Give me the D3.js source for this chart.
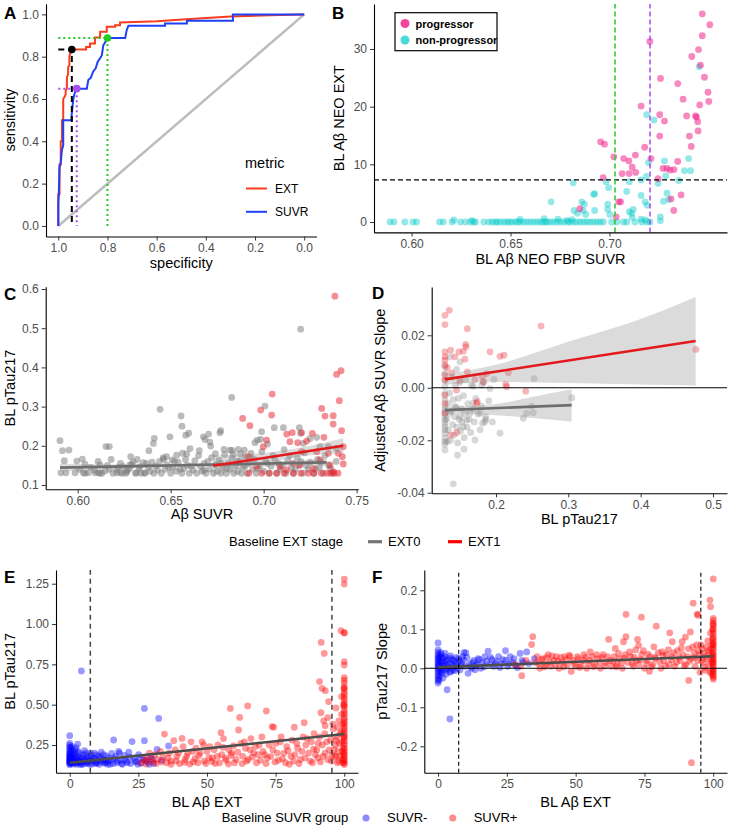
<!DOCTYPE html>
<html>
<head>
<meta charset="utf-8">
<script src="https://cdn.jsdelivr.net/npm/d3@7"></script>
<style>
  body { margin: 0; background: #fff; }
  svg { font-family: "Liberation Sans", Arial, Helvetica, sans-serif; }
  .axis .domain { stroke: #000; stroke-width: 1.1; }
  .axis .tick line { stroke: #333; stroke-width: 1; }
  .axis .tick text { fill: #4d4d4d; font-size: 12px; font-family: "Liberation Sans", Arial, sans-serif; }
  .title { font-size: 14.5px; fill: #000; }
  .letter { font-size: 17px; font-weight: bold; fill: #000; }
  .leg { font-size: 13px; fill: #000; }
</style>
</head>
<body>
<svg id="fig" width="729" height="837"></svg>
<script>
// ---- data ----

// A: ROC curves, [specificity, sensitivity]
const rocExt = [[1,0],[1,0.15],[0.995,0.15],[0.995,0.29],[0.99,0.29],[0.99,0.4],[0.985,0.4],[0.985,0.5],
  [0.98,0.5],[0.98,0.6],[0.975,0.61],[0.97,0.62],[0.97,0.64],[0.965,0.65],[0.965,0.7],[0.96,0.72],
  [0.96,0.75],[0.955,0.76],[0.955,0.8],[0.95,0.82],[0.945,0.834],[0.887,0.834],[0.887,0.846],
  [0.871,0.846],[0.871,0.862],[0.851,0.862],[0.851,0.891],[0.83,0.891],[0.83,0.918],[0.803,0.918],
  [0.803,0.941],[0.769,0.941],[0.769,0.949],[0.749,0.949],[0.749,0.962],[0.6,0.968],[0.48,0.977],
  [0.3,0.99],[0.1,0.997],[0,1]];
const rocSuvr = [[1,0],[1,0.1],[0.998,0.15],[0.995,0.28],[0.99,0.3],[0.985,0.36],[0.98,0.38],[0.98,0.5],
  [0.946,0.5],[0.946,0.52],[0.939,0.6],[0.935,0.62],[0.93,0.64],[0.925,0.649],[0.884,0.649],
  [0.878,0.69],[0.868,0.7],[0.858,0.73],[0.848,0.745],[0.84,0.775],[0.823,0.806],[0.817,0.854],
  [0.808,0.87],[0.803,0.888],[0.728,0.888],[0.722,0.925],[0.715,0.946],[0.566,0.946],[0.566,0.957],
  [0.477,0.957],[0.477,0.97],[0.29,0.97],[0.29,1],[0,1]];
const rocCuts = [ // chosen cut-points
  {name: "EXT", spec: 0.945, sens: 0.834},
  {name: "SUVR-green", spec: 0.80, sens: 0.888},
  {name: "SUVR-purple", spec: 0.925, sens: 0.649}
];
const rocMetrics = ["EXT", "SUVR"];

// B: [BL SUVR, BL EXT]
const bProgressor = [[0.7469,36.1],[0.7507,34.2],[0.7469,32.3],[0.7204,31.3],[0.745,29.9],[0.7416,28.7],
  [0.746,27.2],[0.748,25.1],[0.7258,24.9],[0.7345,24.0],[0.7498,22.5],[0.7372,21.3],[0.7502,20.9],
  [0.7456,20.3],[0.716,20.1],[0.739,18.4],[0.7435,18.4],[0.744,18.2],[0.7254,18.6],[0.7446,17.4],
  [0.7278,17.5],[0.7448,15.8],[0.7404,14.9],[0.7254,14.9],[0.6955,13.9],[0.6975,13.5],[0.7178,12.96],
  [0.7413,13.1],[0.7022,11.3],[0.7072,11.0],[0.7098,10.6],[0.7131,11.6],[0.721,11.0],[0.7345,10.5],
  [0.7115,9.5],[0.7271,9.3],[0.7291,9.3],[0.7306,9.0],[0.7326,9.1],[0.7064,8.4],[0.7099,8.4],
  [0.7133,8.6],[0.7246,7.5],[0.6968,7.7],[0.7362,4.7],[0.7311,4.0],[0.7047,3.5],[0.7056,3.5],
  [0.685,2.3],[0.7325,2.0],[0.7034,0.9]];
const bNonProgressor = [[0.7453,26.9],[0.7188,18.6],[0.7225,17.7],[0.7197,10.3],[0.7278,10.6],[0.740,11.0],
  [0.7379,8.9],[0.741,8.9],[0.7284,8.0],[0.7187,7.9],[0.716,7.3],[0.735,7.2],[0.7246,6.7],[0.71,7.0],
  [0.6983,6.99],[0.6996,5.95],[0.6817,6.8],[0.7087,5.3],[0.692,4.8],[0.6925,4.9],[0.716,4.6],[0.7291,5.0],
  [0.73,3.9],[0.7273,3.6],[0.6705,3.5],[0.686,3.5],[0.6873,3.1],[0.6991,3.1],[0.718,3.5],[0.7191,2.9],
  [0.6821,2.0],[0.6838,1.5],[0.6867,2.0],[0.688,1.3],[0.6925,2.0],[0.6991,2.2],[0.71,1.8],[0.712,2.2],
  [0.7112,1.5],[0.7002,1.3],[0.7257,0.9],[0.7115,0.8],[0.716,0.5],[0.7182,0.35],[0.7257,0.2],
  [0.6785,0.3],[0.681,0.4],[0.674,0.5],[0.667,0.6],[0.6548,0.45],[0.6214,0.35],[0.6305,0.3],
  [0.5891,0],[0.5911,0],[0.5966,0],[0.6007,0],[0.6025,0],[0.6141,0],[0.616,0],[0.6205,0],[0.6247,0],
  [0.6272,0],[0.6297,0],[0.6314,0],[0.6323,0],[0.6365,0],[0.639,0],[0.6407,0],[0.6424,0],[0.6432,0],
  [0.6449,0],[0.6466,0],[0.6482,0],[0.6494,0],[0.6507,0],[0.6524,0],[0.6536,0],[0.6549,0],[0.6566,0],
  [0.6583,0],[0.66,0],[0.6617,0],[0.6633,0],[0.665,0],[0.6664,0],[0.6675,0],[0.6684,0],[0.67,0],
  [0.6717,0],[0.6734,0],[0.6751,0],[0.6768,0],[0.6788,0],[0.6801,0],[0.6818,0],[0.6835,0],[0.6852,0],
  [0.6869,0],[0.6885,0],[0.6902,0],[0.6919,0],[0.6936,0],[0.6953,0],[0.6969,0],[0.7011,0],[0.7037,0],
  [0.707,0],[0.7087,0],[0.7129,0],[0.7163,0],[0.7188,0],[0.7205,0]];
const bCuts = {ext: 7.3, suvrGreen: 0.7028, suvrPurple: 0.7205};

// C: [Abeta SUVR, BL pTau217]
const cExt0 = [[0.5905,0.213],[0.5918,0.1875],[0.5953,0.189],[0.5928,0.162],[0.591,0.131],[0.5937,0.131],
  [0.5995,0.161],[0.6025,0.166],[0.6039,0.153],[0.5986,0.131],[0.603,0.131],[0.6057,0.131],[0.6093,0.131],
  [0.6111,0.131],[0.612,0.151],[0.6152,0.198],[0.617,0.198],[0.6147,0.136],[0.621,0.131],[0.6228,0.131],
  [0.6245,0.147],[0.6263,0.134],[0.6285,0.172],[0.6281,0.151],[0.6299,0.159],[0.6317,0.131],[0.6335,0.147],
  [0.6353,0.157],[0.6362,0.131],[0.6383,0.1875],[0.6407,0.206],[0.6412,0.219],[0.6443,0.293],[0.6461,0.1654],
  [0.6478,0.172],[0.6496,0.223],[0.6509,0.164],[0.6532,0.176],[0.6556,0.276],[0.6561,0.25],[0.6581,0.227],
  [0.6597,0.232],[0.6564,0.181],[0.6586,0.179],[0.6604,0.193],[0.6654,0.1875],[0.6676,0.223],[0.6685,0.216],
  [0.6704,0.23],[0.6711,0.2096],[0.6715,0.1994],[0.6765,0.2334],[0.6769,0.2385],[0.6828,0.3234],
  [0.6787,0.1909],[0.6819,0.1892],[0.6837,0.1782],[0.6864,0.1909],[0.6876,0.179],[0.6896,0.1892],
  [0.6932,0.1807],[0.6953,0.2079],[0.6966,0.2147],[0.6984,0.2164],[0.6989,0.236],[0.7007,0.3014],
  [0.7021,0.2045],[0.7057,0.2461],[0.7106,0.2461],[0.7199,0.4976],[0.7192,0.2461],[0.7199,0.2317],
  [0.7213,0.2062],[0.7249,0.2181],[0.7285,0.2215],[0.7303,0.1977],[0.7348,0.1977],[0.7392,0.1935],
  [0.612,0.13],[0.617,0.14],[0.619,0.13],[0.622,0.145],[0.624,0.13],[0.627,0.138],[0.629,0.152],[0.631,0.13],
  [0.633,0.142],[0.636,0.13],[0.637,0.155],[0.639,0.135],[0.641,0.13],[0.642,0.148],[0.644,0.16],[0.645,0.13],
  [0.647,0.14],[0.648,0.152],[0.65,0.13],[0.651,0.145],[0.653,0.135],[0.654,0.158],[0.656,0.13],[0.657,0.142],
  [0.659,0.15],[0.66,0.13],[0.662,0.138],[0.663,0.162],[0.664,0.13],[0.666,0.147],[0.667,0.135],[0.668,0.155],
  [0.669,0.13],[0.671,0.141],[0.672,0.17],[0.673,0.13],[0.674,0.152],[0.675,0.136],[0.676,0.163],[0.677,0.13],
  [0.678,0.145],[0.679,0.178],[0.68,0.13],[0.681,0.155],[0.682,0.14],[0.683,0.168],[0.684,0.13],[0.685,0.15],
  [0.686,0.135],[0.687,0.16],[0.688,0.13],[0.689,0.145],[0.69,0.172],[0.691,0.13],[0.692,0.155],[0.694,0.14],
  [0.695,0.165],[0.696,0.13],[0.698,0.15],[0.699,0.185],[0.7,0.135],[0.701,0.16],[0.703,0.13],[0.704,0.148],
  [0.705,0.175],[0.707,0.13],[0.708,0.155],[0.709,0.14],[0.711,0.19],[0.712,0.13],[0.713,0.162],[0.715,0.145],
  [0.716,0.13],[0.718,0.17],[0.719,0.15],[0.721,0.13],[0.722,0.182],[0.724,0.14],[0.725,0.158],[0.727,0.13],
  [0.729,0.165],[0.73,0.145],[0.732,0.13],[0.733,0.175],[0.735,0.15],[0.737,0.13],[0.739,0.16],
  [0.601,0.14],[0.604,0.13],[0.607,0.145],[0.609,0.138],[0.611,0.16],[0.613,0.13],[0.616,0.15],[0.618,0.165],
  [0.621,0.14],[0.623,0.155],[0.626,0.13],[0.628,0.143],[0.632,0.165],[0.634,0.13],[0.638,0.145],[0.64,0.158],
  [0.643,0.138],[0.646,0.17],[0.649,0.145],[0.652,0.16],[0.655,0.14],[0.658,0.165],[0.661,0.148],[0.665,0.175],
  [0.668,0.138],[0.67,0.16],[0.674,0.18],[0.677,0.155],[0.68,0.142],[0.683,0.188],[0.686,0.16],[0.69,0.148],
  [0.693,0.17],[0.697,0.142],[0.702,0.155],[0.706,0.165],[0.71,0.15],[0.714,0.175],[0.717,0.14],[0.72,0.16],
  [0.723,0.15],[0.728,0.14],[0.731,0.158],[0.736,0.142]];
const cExt1 = [[0.7383,0.5817],[0.7392,0.3821],[0.7416,0.3914],[0.7407,0.315],[0.7374,0.2767],[0.7374,0.2555],
  [0.7419,0.2385],[0.7046,0.332],[0.6984,0.2912],[0.7043,0.2784],[0.6887,0.2699],[0.6926,0.2512],
  [0.7312,0.2954],[0.733,0.2759],[0.7124,0.23],[0.7154,0.2334],[0.7204,0.2334],[0.7262,0.2317],
  [0.7324,0.2215],[0.7428,0.1977],[0.7423,0.1722],[0.7428,0.1535],[0.7141,0.2105],[0.7183,0.2079],
  [0.7231,0.2121],[0.7016,0.2147],[0.6998,0.1977],[0.6917,0.1722],[0.6962,0.1467],[0.7088,0.1467],
  [0.7124,0.1382],[0.7159,0.1552],[0.7195,0.151],[0.7267,0.1425],[0.7303,0.1637],[0.7357,0.151],
  [0.7374,0.134],[0.7401,0.1807],[0.7348,0.1807],[0.7285,0.185],[0.7204,0.185],
  [0.692,0.13],[0.699,0.13],[0.703,0.13],[0.707,0.13],[0.711,0.13],[0.716,0.13],[0.72,0.13],[0.724,0.13],
  [0.727,0.13],[0.731,0.13],[0.734,0.13],[0.736,0.13],[0.738,0.13],[0.74,0.13]];
// fitted lines and bands: [x, fit] / [x, lower, upper]
const cFit0 = [[0.5905,0.1442],[0.7339,0.1578]];
const cFit1 = [[0.6729,0.149],[0.7428,0.2]];
const cBand0 = [[0.5905,0.134,0.155],[0.62,0.141,0.152],[0.66,0.147,0.154],[0.7,0.149,0.159],[0.7339,0.149,0.167]];
const cBand1 = [[0.6729,0.122,0.176],[0.69,0.145,0.178],[0.708,0.163,0.186],[0.725,0.176,0.2],[0.7428,0.181,0.219]];

// D: [BL pTau217, adjusted SUVR slope]
const dExt1 = [[0.1294,0.0276],[0.1354,0.0295],[0.1294,0.0241],[0.1294,0.0137],[0.1294,0.0118],[0.1294,0.0105],
  [0.1294,0.0086],[0.1294,0.0048],[0.1294,0.0029],[0.1372,0.0143],[0.1432,0.0118],[0.1488,0.0137],
  [0.1548,0.0139],[0.1603,0.0225],[0.158,0.0165],[0.1585,0.0156],[0.1571,0.0109],[0.1603,0.0061],
  [0.1386,0.0057],[0.1709,0.0032],[0.1811,0.0042],[0.1917,0.0137],[0.2055,0.012],[0.2111,0.0124],
  [0.2171,0.0057],[0.2134,0.0013],[0.2148,0.0004],[0.2411,-0.0013],[0.2623,0.0235],[0.4764,0.0146],
  [0.1294,-0.0028],[0.1294,-0.006],[0.1294,-0.0097],[0.1455,-0.0009],[0.1732,-0.0059],[0.1742,-0.0053],
  [0.1372,-0.018],[0.1455,-0.0171],[0.1326,0.0077],[0.1502,0.0029],[0.1825,0.0023],[0.1871,0.0054]];
const dExt0 = [[0.1409,-0.0366],[0.1294,-0.0237],[0.1469,-0.0256],[0.1557,-0.0234],[0.1709,-0.0199],
  [0.1294,-0.0192],[0.1294,-0.0173],[0.1294,-0.0148],[0.1294,-0.0123],[0.1294,-0.0097],[0.1294,-0.0072],
  [0.1294,-0.0047],[0.1294,-0.0022],[0.1294,0.0004],[0.1294,0.0029],[0.1294,0.0055],[0.1294,0.008],
  [0.1326,-0.0205],[0.1363,-0.0097],[0.1432,-0.0072],[0.1502,-0.011],[0.1548,-0.0148],[0.1594,-0.0123],
  [0.164,-0.0097],[0.1686,-0.0059],[0.1778,-0.0097],[0.1848,-0.0129],[0.1815,-0.0135],[0.1857,-0.011],
  [0.2055,-0.0173],[0.2378,-0.0116],[0.2425,-0.0097],[0.2494,-0.007],[0.2517,-0.0095],[0.2526,0.0035],
  [0.3048,-0.0038],[0.1972,0.0032],[0.1917,-0.0003],[0.1802,0.001],[0.1686,0.0006],[0.1455,0.007],
  [0.1363,0.0118],[0.1502,0.0099],[0.1294,-0.0205],[0.1294,-0.016],[0.1294,-0.011],[0.1294,-0.0085],
  [0.1294,-0.0135],[0.1294,-0.0215],[0.132,-0.012],[0.134,-0.006],[0.134,-0.016],[0.136,-0.002],[0.137,-0.02],
  [0.138,-0.009],[0.139,0.004],[0.14,-0.014],[0.141,-0.0045],[0.142,-0.018],[0.143,-0.011],[0.144,0.001],
  [0.145,-0.0075],[0.146,-0.015],[0.147,-0.021],[0.148,-0.004],[0.149,-0.012],[0.15,0.002],[0.151,-0.0165],
  [0.152,-0.008],[0.153,-0.013],[0.155,-0.003],[0.156,-0.019],[0.157,-0.01],[0.158,0.003],[0.16,-0.015],
  [0.161,-0.006],[0.163,-0.012],[0.165,-0.017],[0.166,0.001],[0.168,-0.008],[0.17,-0.013],[0.172,-0.004],
  [0.175,-0.01],[0.178,-0.016],[0.18,-0.007],[0.183,0.002],[0.186,-0.012],[0.19,-0.005],[0.195,-0.013]];
const dFit0 = [[0.1294,-0.0085],[0.3046,-0.0066]];
const dFit1 = [[0.1294,0.0032],[0.476,0.0178]];
const dBand0 = [[0.1294,-0.0097,-0.0073],[0.2,-0.0105,-0.0062],[0.25,-0.0115,-0.0035],[0.3046,-0.0129,-0.0006]];
const dBand1 = [[0.1294,0.0012,0.0052],[0.2,0.0022,0.0088],[0.3,0.0018,0.0175],[0.4,0.0013,0.0262],[0.476,0.0009,0.0346]];

// E: [BL Abeta EXT, BL pTau217]
const eSuvrNeg = [[0,0.128],[0,0.134],[0,0.141],[0,0.147],[0,0.153],[0,0.158],[0,0.166],[0,0.172],[0,0.179],
  [0,0.186],[0,0.193],[0,0.201],[0,0.212],[0,0.222],[0,0.235],[0,0.247],[0,0.26],[0,0.308],
  [0.2,0.16],[0.3,0.2],[0.4,0.138],[0.5,0.23],[0.6,0.175],[0.7,0.145],[0.9,0.152],[1,0.17],[1.1,0.21],
  [1.3,0.133],[1.4,0.155],[1.6,0.188],[1.7,0.14],[1.9,0.145],[2,0.2],[2.3,0.232],[2.4,0.13],[2.6,0.162],
  [2.8,0.18],[2.9,0.256],[3.1,0.14],[3.3,0.16],[3.6,0.198],[3.9,0.128],[4,0.145],[4.25,0.709],[4.5,0.17],
  [4.8,0.13],[5.1,0.147],[5.4,0.215],[5.6,0.165],[6,0.135],[6.4,0.182],[6.8,0.14],[7.1,0.155],[7.6,0.2],
  [7.9,0.16],[8.2,0.132],[8.8,0.168],[9,0.2],[9.3,0.143],[9.9,0.188],[10,0.138],[10.4,0.152],[10.8,0.13],
  [11.2,0.172],[11.5,0.205],[12.1,0.16],[12.6,0.138],[12.9,0.155],[13.4,0.182],[13.8,0.13],[14,0.148],
  [14.7,0.13],[15.3,0.198],[16,0.281],[16.2,0.165],[17.1,0.14],[17.8,0.21],[18.5,0.155],[19.2,0.13],
  [19.9,0.185],[20.7,0.148],[21.5,0.205],[22.2,0.135],[22.7,0.271],[23.4,0.168],[24.3,0.145],[25.1,0.19],
  [26,0.137],[26.8,0.16],[27.2,0.477],[27.2,0.277],[28.3,0.142],[29.5,0.178],[30.6,0.135],[31.8,0.223],
  [32.4,0.415],[33.5,0.155],[36,0.244],
  [0.1,0.15],[0.3,0.18],[0.5,0.14],[0.8,0.24],[1.2,0.19],[1.5,0.15],[1.8,0.22],[2.1,0.17],[2.6,0.14],
  [3,0.21],[3.4,0.15],[3.8,0.175],[4.2,0.135],[4.9,0.19],[5.3,0.155],[5.9,0.2],[6.2,0.145],[6.7,0.17],
  [7.3,0.13],[7.8,0.185],[8.4,0.15],[9.1,0.165],[9.6,0.135],[10.7,0.18],[11.8,0.145],[12.3,0.19],
  [13.1,0.14],[14.3,0.17],[15,0.155],[15.8,0.135],[16.7,0.18],[17.5,0.15],[18.1,0.2],[18.9,0.135],
  [20,0.16],[21,0.14],[21.9,0.175],[23.8,0.15],[24.8,0.13],[25.7,0.17],[27.8,0.155],[29,0.13],[30.1,0.16]];
const eSuvrPos = [[26,0.14],[27.5,0.155],[28,0.17],[29,0.2],[30.2,0.145],[31,0.19],[32,0.16],[33,0.21],
  [34,0.175],[34.5,0.318],[35.2,0.14],[36.3,0.2],[37,0.15],[37.9,0.277],[38.4,0.22],[39,0.18],[40,0.135],
  [40.9,0.291],[41.3,0.24],[42,0.16],[43,0.2],[44.2,0.27],[45,0.145],[46,0.23],[47,0.185],[48.2,0.27],
  [49,0.15],[50,0.21],[51,0.24],[52,0.17],[53,0.135],[54,0.25],[55.1,0.326],[55.4,0.19],[56,0.29],
  [57,0.155],[58.5,0.477],[58,0.22],[59,0.2],[60,0.14],[61.5,0.343],[61.9,0.421],[62.3,0.26],[63,0.18],
  [64.8,0.492],[64,0.23],[65,0.16],[66,0.29],[67,0.2],[68,0.14],[69,0.25],[70,0.3],[71.6,0.461],[71,0.19],
  [72,0.17],[73.7,0.364],[74.3,0.36],[74,0.22],[75,0.26],[76,0.155],[77,0.3],[78,0.2],[79,0.24],[80,0.13],
  [81.8,0.36],[81,0.28],[82,0.19],[83,0.23],[84,0.16],[85.4,0.388],[85,0.3],[86,0.25],[87,0.2],[88,0.27],
  [88.4,0.14],[89,0.32],[90,0.22],[90.4,0.17],[91,0.643],[91.6,0.886],[91.9,0.601],[92.7,0.818],
  [93.1,0.587],[94.3,0.519],[91.5,0.45],[92.5,0.4],[93,0.37],[94,0.42],[91,0.3],[92,0.25],[93,0.2],
  [94,0.16],[95,0.28],[96,0.35],[96.3,0.22],[97,0.48],[97.2,0.3],[97,0.18],[98,0.4],[98.2,0.26],[98,0.15],
  [98.8,0.959],[99,0.55],[99,0.33],[99.2,0.21],[99.4,0.14],[95.5,0.19],[96.8,0.25],[97.6,0.36],
  [27.8,0.132],[29.6,0.16],[31.5,0.135],[33.4,0.145],[35.8,0.17],[36.9,0.13],[38.8,0.152],[39.7,0.2],
  [41.8,0.142],[42.6,0.18],[43.7,0.132],[44.8,0.21],[45.6,0.165],[46.7,0.14],[47.5,0.2],[48.8,0.25],
  [49.6,0.135],[50.7,0.17],[51.8,0.148],[52.6,0.22],[53.8,0.18],[54.6,0.14],[55.9,0.235],[56.7,0.168],
  [57.8,0.132],[58.8,0.185],[59.7,0.245],[60.6,0.16],[61.2,0.205],[62.8,0.135],[63.6,0.27],[64.4,0.15],
  [65.7,0.22],[66.5,0.175],[67.6,0.24],[68.6,0.19],[69.5,0.155],[70.4,0.21],[71.5,0.135],[72.6,0.25],
  [73.2,0.18],[74.8,0.145],[75.6,0.2],[76.7,0.27],[77.5,0.165],[78.6,0.14],[79.5,0.215],[80.6,0.18],
  [81.5,0.15],[82.7,0.26],[83.5,0.135],[84.6,0.21],[85.7,0.17],[86.5,0.29],[87.6,0.15],[88.8,0.225],
  [89.5,0.19],[90.5,0.26],[91.3,0.145],[92.3,0.18],[92.9,0.32],[93.6,0.27],[94.5,0.22],[95.3,0.15],
  [95.8,0.38],[96.5,0.18],[96.9,0.28],[97.5,0.14],[97.8,0.21],[98.5,0.32],[98.6,0.18],[99,0.44],
  [99.1,0.27],[99.3,0.16],[99.5,0.38],[99.6,0.23],[99.7,0.5],[99.8,0.3],[99.8,0.19],[99.9,0.6],
  [100,1.279],[100,1.248],[100,0.946],[100,0.945],[100,0.767],[100,0.746],[100,0.668],[100,0.652],
  [100,0.634],[100,0.611],[100,0.598],[100,0.577],[100,0.563],[100,0.546],[100,0.531],[100,0.512],
  [100,0.497],[100,0.488],[100,0.469],[100,0.452],[100,0.44],[100,0.421],[100,0.409],[100,0.393],
  [100,0.382],[100,0.364],[100,0.351],[100,0.337],[100,0.322],[100,0.306],[100,0.294],[100,0.277],
  [100,0.262],[100,0.249],[100,0.231],[100,0.218],[100,0.203],[100,0.19],[100,0.172],[100,0.161],
  [100,0.149],[100,0.138],[100,0.129]];
const eFit = [[0,0.14],[100,0.318]];
const extCuts = [7.5, 95.5];

// F: [BL Abeta EXT, pTau217 slope]
const fSuvrNeg = [[0,0.065],[0,0.047],[0,0.04],[0,0.034],[0,0.028],[0,0.022],[0,0.017],[0,0.012],[0,0.007],
  [0,0.002],[0,-0.003],[0,-0.008],[0,-0.014],[0,-0.02],[0,-0.026],[0,-0.032],[0,-0.038],[3.3,-0.055],
  [4.3,-0.13],[0.3,0.01],[0.5,0.03],[0.6,-0.02],[0.8,-0.01],[1,0.04],[1.2,0.015],[1.4,-0.012],[1.5,0],
  [1.9,0.025],[2,0.005],[2.3,-0.005],[2.5,0.03],[2.7,0.01],[3,0.02],[3.2,-0.002],[3.6,0],[4,0.012],
  [4.4,0.026],[4.7,-0.008],[5.2,0.022],[5.5,-0.004],[5.8,0.005],[6.3,0.015],[6.6,0.028],[7,0],
  [7.7,0.018],[8.3,0.008],[8.9,0.03],[9.4,0.04],[10.1,0.04],[10.9,-0.013],[11.4,0.012],[12.2,0],
  [13,0.02],[13.8,0.008],[14.6,0.025],[15.5,0],[16.2,0.015],[17,0.03],[18.2,0.044],[18.8,0.01],
  [19.6,0.022],[20.3,0.005],[21.2,0.018],[22,0.03],[23,0.012],[24.5,0.045],[24.6,0.02],[25.3,0.005],
  [26.2,0.03],[27,0.015],[28.1,0.008],[29.8,0.038],[30.5,0.02],[32.2,0.042],[33,0.012],[35,0.025],
  [0.2,0.025],[0.4,-0.03],[0.7,0.018],[0.9,0.035],[1.1,-0.005],[1.3,0.028],[1.6,0.008],[1.8,-0.025],
  [2.2,0.015],[2.6,0.038],[2.9,-0.015],[3.4,0.022],[3.8,0.005],[4.2,-0.01],[4.6,0.032],[5,0.01],
  [5.7,0.02],[6.1,-0.006],[6.8,0.01],[7.4,0.025],[8,-0.004],[8.6,0.014],[9.2,0.022],[9.8,0.005],
  [10.5,0.028],[11.8,0.004],[12.6,0.015],[13.4,-0.004],[14.2,0.01],[15,0.022],[16.7,0.004],[17.6,0.018],
  [19.1,0.028],[20.8,0.012],[22.5,0.002],[23.6,0.022],[25.8,0.012],[27.6,0.025],[28.8,0.002],[31,0.015]];
const fSuvrPos = [[34.4,0.081],[34,0.061],[30.4,-0.019],[28,0.01],[30,0.005],[32,0.02],[35.4,0.015],
  [36,0.03],[37,0],[38,0.025],[39,0.01],[40,0.035],[41,0.005],[42,0.02],[43,0.03],[44,0],[45,0.015],
  [46,0.03],[47,0.01],[48.4,-0.008],[48,0.03],[49,0.02],[50,0.005],[51,0.025],[52,0.01],[53,0.035],
  [54,0],[55.3,0.042],[55,0.02],[56,0.03],[57,0.01],[58,0.025],[59,0],[60,0.035],[61,0.015],[62,0.074],
  [62.4,0.02],[63,0.005],[64.4,0.051],[64,0.03],[65,0.01],[66,0.025],[67.4,0.068],[67,0],[68.3,0.138],
  [68.3,0.081],[68,0.035],[69,0.015],[70,0.03],[71,0.005],[71.8,0.047],[72.5,0.074],[72.9,0.059],
  [72,0.02],[73.9,0.131],[73,0.01],[74,0.035],[75,0],[76,0.02],[76.8,-0.008],[77,0.03],[78.4,0.055],
  [78,0.01],[79.3,0.108],[79,0.025],[80,0.04],[81.4,0.042],[81,0],[82,0.02],[83,0.035],[84.2,0.091],
  [84,0.01],[85.1,0.068],[85,0.03],[86,0.005],[87,0.045],[88.7,0.068],[88,0.02],[89.9,0.08],[89,0.035],
  [90,0.01],[91.1,-0.031],[91.7,0.093],[91,0.05],[92.1,-0.242],[92.7,0.167],[92,0.025],[93,0.04],
  [93.4,0.005],[94.2,0.139],[94.4,0.136],[94,0.06],[94.3,0.02],[95,0.035],[95.2,-0.01],[96,0.05],
  [96.3,0.015],[97,0.03],[97.2,-0.005],[98,0.07],[98.2,0.045],[98.4,0.01],[98.8,0.175],[99,0.158],
  [99,0.09],[99.2,0.025],[99.4,-0.015],[99.5,0.06],[99.6,0.035],
  [36.5,0.012],[37.6,0.022],[38.7,0.004],[39.5,0.028],[40.6,0.016],[41.5,0.032],[42.7,0.008],[43.5,0.018],
  [44.6,0.028],[45.7,0.004],[46.5,0.022],[47.6,0.034],[49.5,0.012],[50.6,0.03],[51.5,0.002],[52.7,0.02],
  [53.6,0.028],[54.7,0.012],[56.5,0.004],[57.6,0.035],[58.7,0.015],[59.6,0.028],[60.7,0.006],[61.6,0.03],
  [63.6,0.018],[64.8,0.004],[65.6,0.038],[66.7,0.014],[67.7,0.026],[69.6,0.042],[70.6,0.012],[71.3,0.028],
  [73.5,0.022],[74.6,0.045],[75.7,0.012],[76.3,0.036],[77.6,0.004],[78.8,0.028],[80.5,0.016],[81.8,0.034],
  [82.6,0.006],[83.7,0.048],[84.8,0.022],[85.6,0.04],[86.6,0.015],[87.6,0.028],[88.4,0.052],[89.5,0.006],
  [90.6,0.03],[91.4,0.018],[92.5,0.055],[93.3,0.028],[94.6,0.045],[95.5,0.06],[95.8,0.02],[96.6,0.038],
  [96.9,0.002],[97.5,0.055],[97.8,0.025],[98.6,0.04],[98.9,-0.01],[99.3,0.05],[99.4,0.012],[99.7,0.1],
  [99.7,0.075],[99.8,0.03],[99.8,-0.005],[99.9,0.115],[99.9,0.06],[99.9,0.018],
  [100,0.229],[100,0.128],[100,0.122],[100,0.113],[100,0.108],[100,0.101],[100,0.093],[100,0.088],
  [100,0.079],[100,0.074],[100,0.066],[100,0.061],[100,0.053],[100,0.048],[100,0.04],[100,0.035],
  [100,0.027],[100,0.023],[100,0.015],[100,0.011],[100,0.004],[100,-0.001],[100,-0.009],[100,-0.012],
  [100,-0.019],[100,-0.023],[100,-0.028]];
const fFit = [[0,0.0025],[100,0.031]];

// ---- drawing ----
const svg = d3.select("#fig");

function panel(o) {
  const g = svg.append("g");
  const x = d3.scaleLinear().domain(o.xDomain).range([o.left, o.right]);
  const y = d3.scaleLinear().domain(o.yDomain).range([o.bottom, o.top]);
  const layer = g.append("g"); // data below axes
  g.append("g").attr("class", "axis")
      .attr("transform", `translate(0,${o.bottom})`)
      .call(d3.axisBottom(x).tickValues(o.xTicks).tickFormat(o.xFmt)
        .tickSize(4).tickSizeOuter(0).tickPadding(3));
  g.append("g").attr("class", "axis")
      .attr("transform", `translate(${o.left},0)`)
      .call(d3.axisLeft(y).tickValues(o.yTicks).tickFormat(o.yFmt)
        .tickSize(4).tickSizeOuter(0).tickPadding(3));
  g.append("text").attr("class", "title")
      .attr("x", (o.left + o.right) / 2).attr("y", o.xTitleY)
      .attr("text-anchor", "middle").text(o.xTitle);
  g.append("text").attr("class", "title")
      .attr("transform", `translate(${o.yTitleX},${(o.top + o.bottom) / 2}) rotate(-90)`)
      .attr("text-anchor", "middle").text(o.yTitle);
  g.append("text").attr("class", "letter")
      .attr("x", o.letterX).attr("y", o.letterY).text(o.letter);
  return {layer, x, y};
}

const fix = n => d => d.toFixed(n);

function dots(p, data, color, op, r = 3.4) {
  p.layer.append("g").selectAll("circle").data(data).join("circle")
      .attr("cx", d => p.x(d[0])).attr("cy", d => p.y(d[1]))
      .attr("r", r).attr("fill", color).attr("fill-opacity", op);
}
function fitLine(p, data, color, w = 2.6) {
  p.layer.append("path").datum(data)
      .attr("d", d3.line().x(d => p.x(d[0])).y(d => p.y(d[1])))
      .attr("fill", "none").attr("stroke", color).attr("stroke-width", w);
}
function band(p, data) {
  p.layer.append("path").datum(data)
      .attr("d", d3.area().curve(d3.curveMonotoneX)
        .x(d => p.x(d[0])).y0(d => p.y(d[1])).y1(d => p.y(d[2])))
      .attr("fill", "#999").attr("fill-opacity", 0.35);
}
function vline(p, v, color, w, dash) {
  const [a, b] = p.y.range();
  p.layer.append("line").attr("x1", p.x(v)).attr("x2", p.x(v)).attr("y1", a).attr("y2", b)
      .attr("stroke", color).attr("stroke-width", w).attr("stroke-dasharray", dash);
}
function hline(p, v, color, w, dash) {
  const [a, b] = p.x.range();
  p.layer.append("line").attr("x1", a).attr("x2", b).attr("y1", p.y(v)).attr("y2", p.y(v))
      .attr("stroke", color).attr("stroke-width", w).attr("stroke-dasharray", dash);
}

// ---------- A ----------
const A = panel({left: 46, right: 316.5, top: 3.8, bottom: 236.5,
  xDomain: [1.05, -0.05], yDomain: [-0.05, 1.05],
  xTicks: [1, 0.8, 0.6, 0.4, 0.2, 0], yTicks: [0, 0.2, 0.4, 0.6, 0.8, 1],
  xFmt: fix(1), yFmt: fix(1),
  xTitle: "specificity", xTitleY: 268, yTitle: "sensitivity", yTitleX: 15,
  letter: "A", letterX: 4, letterY: 19});
{
  const line = d3.line().x(d => A.x(d[0])).y(d => A.y(d[1]));
  A.layer.append("path").datum([[1, 0], [0, 1]]).attr("d", line)
      .attr("stroke", "#bdbdbd").attr("stroke-width", 2.6).attr("fill", "none");
  const rocColor = {EXT: "#fa3c1e", SUVR: "#1f40f5"};
  [rocExt, rocSuvr].forEach((c, i) => {
    A.layer.append("path").datum(c).attr("d", line).attr("fill", "none")
        .attr("stroke", rocColor[rocMetrics[i]]).attr("stroke-width", 2);
  });
  const cutStyle = [
    {color: "#000", dash: "6,4", w: 2},
    {color: "#22cc22", dash: "2,3", w: 2},
    {color: "#a64ff0", dash: "2,3", w: 2}
  ];
  rocCuts.forEach((c, i) => {
    const s = cutStyle[i];
    A.layer.append("path").datum([[1, c.sens], [c.spec, c.sens], [c.spec, 0]]).attr("d", line)
        .attr("fill", "none").attr("stroke", s.color).attr("stroke-width", s.w)
        .attr("stroke-dasharray", s.dash);
  });
  rocCuts.forEach((c, i) => {
    A.layer.append("circle").attr("cx", A.x(c.spec)).attr("cy", A.y(c.sens)).attr("r", 3.8)
        .attr("fill", cutStyle[i].color);
  });
  // legend
  const lg = A.layer.append("g");
  lg.append("text").attr("x", 245).attr("y", 168).attr("font-size", 14.5).text("metric");
  rocMetrics.forEach((m, i) => {
    const yy = 188.5 + i * 23.3;
    lg.append("line").attr("x1", 246).attr("x2", 267).attr("y1", yy).attr("y2", yy)
        .attr("stroke", rocColor[m]).attr("stroke-width", 2);
    lg.append("text").attr("x", 275).attr("y", yy + 4.3).attr("font-size", 12).text(m);
  });
}

// ---------- B ----------
const B = panel({left: 374, right: 727, top: 4, bottom: 232.4,
  xDomain: [0.581, 0.7594], yDomain: [-1.8, 37.8],
  xTicks: [0.6, 0.65, 0.7], yTicks: [0, 10, 20, 30],
  xFmt: fix(2), yFmt: fix(0),
  xTitle: "BL Aβ NEO FBP SUVR", xTitleY: 264, yTitle: "BL Aβ NEO EXT", yTitleX: 344,
  letter: "B", letterX: 332, letterY: 19});
{
  dots(B, bNonProgressor, "#00c8c8", 0.42);
  dots(B, bProgressor, "#f0268c", 0.55);
  hline(B, bCuts.ext, "#000", 1.1, "5,3");
  vline(B, bCuts.suvrGreen, "#33cc33", 1.6, "5,3");
  vline(B, bCuts.suvrPurple, "#a040f0", 1.4, "5,3");
  const lg = B.layer.append("g");
  lg.append("rect").attr("x", 395).attr("y", 12.7).attr("width", 102).attr("height", 38)
      .attr("fill", "#fff").attr("stroke", "#000").attr("stroke-width", 1.2);
  [["progressor", "#f0268c", 0.85], ["non-progressor", "#00c8c8", 0.7]].forEach((k, i) => {
    const yy = 23.5 + i * 16.5;
    lg.append("circle").attr("cx", 405).attr("cy", yy).attr("r", 4.5)
        .attr("fill", k[1]).attr("fill-opacity", k[2]);
    lg.append("text").attr("x", 415.5).attr("y", yy + 4).attr("font-size", 11)
        .attr("font-weight", "bold").text(k[0]);
  });
}

// ---------- C ----------
const C = panel({left: 45.7, right: 358.3, top: 286.7, bottom: 489.3,
  xDomain: [0.5828, 0.7509], yDomain: [0.089, 0.6059],
  xTicks: [0.6, 0.65, 0.7, 0.75], yTicks: [0.1, 0.2, 0.3, 0.4, 0.5, 0.6],
  xFmt: fix(2), yFmt: fix(1),
  xTitle: "Aβ SUVR", xTitleY: 519, yTitle: "BL pTau217", yTitleX: 15,
  letter: "C", letterX: 4, letterY: 300});
{
  dots(C, cExt0, "#7a7a7a", 0.5);
  dots(C, cExt1, "#e8202a", 0.5);
  band(C, cBand0); band(C, cBand1);
  fitLine(C, cFit0, "#6e6e6e");
  fitLine(C, cFit1, "#e3191c");
}

// ---------- D ----------
const D = panel({left: 431.7, right: 727, top: 287, bottom: 493.3,
  xDomain: [0.1111, 0.5194], yDomain: [-0.0402, 0.0384],
  xTicks: [0.2, 0.3, 0.4, 0.5], yTicks: [-0.04, -0.02, 0, 0.02],
  xFmt: fix(1), yFmt: fix(2),
  xTitle: "BL pTau217", xTitleY: 524, yTitle: "Adjusted Aβ SUVR Slope", yTitleX: 385,
  letter: "D", letterX: 372, letterY: 299});
{
  dots(D, dExt0, "#7a7a7a", 0.3);
  dots(D, dExt1, "#e8202a", 0.33);
  band(D, dBand0); band(D, dBand1);
  hline(D, 0, "#000", 1.1, null);
  fitLine(D, dFit0, "#6e6e6e");
  fitLine(D, dFit1, "#e3191c");
}

// middle legend
{
  const lg = svg.append("g");
  lg.append("text").attr("class", "leg").attr("x", 229).attr("y", 546).text("Baseline EXT stage");
  [["EXT0", "#777", 368], ["EXT1", "#ff0000", 448]].forEach(k => {
    lg.append("line").attr("x1", k[2]).attr("x2", k[2] + 14).attr("y1", 541.7).attr("y2", 541.7)
        .attr("stroke", k[1]).attr("stroke-width", 3.2);
    lg.append("text").attr("class", "leg").attr("x", k[2] + 20).attr("y", 546).text(k[0]);
  });
}

// ---------- E ----------
const E = panel({left: 56, right: 358, top: 570, bottom: 772.7,
  xDomain: [-5, 105], yDomain: [0.0783, 1.335],
  xTicks: [0, 25, 50, 75, 100], yTicks: [0.25, 0.5, 0.75, 1, 1.25],
  xFmt: fix(0), yFmt: fix(2),
  xTitle: "BL Aβ EXT", xTitleY: 807, yTitle: "BL pTau217", yTitleX: 15,
  letter: "E", letterX: 4, letterY: 583});
{
  dots(E, eSuvrNeg, "#0000ff", 0.4);
  dots(E, eSuvrPos, "#ff0000", 0.4);
  fitLine(E, eFit, "#4d4d4d");
  extCuts.forEach(v => vline(E, v, "#444", 1.5, "5,4"));
}

// ---------- F ----------
const F = panel({left: 424.3, right: 727, top: 570, bottom: 772.7,
  xDomain: [-5, 105], yDomain: [-0.2677, 0.252],
  xTicks: [0, 25, 50, 75, 100], yTicks: [-0.2, -0.1, 0, 0.1, 0.2],
  xFmt: fix(0), yFmt: fix(1),
  xTitle: "BL Aβ EXT", xTitleY: 807, yTitle: "pTau217 Slope", yTitleX: 387,
  letter: "F", letterX: 372, letterY: 583});
{
  dots(F, fSuvrNeg, "#0000ff", 0.4);
  dots(F, fSuvrPos, "#ff0000", 0.4);
  hline(F, 0, "#000", 1.1, null);
  fitLine(F, fFit, "#4d4d4d");
  extCuts.forEach(v => vline(F, v, "#000", 1.1, "4,3"));
}

// bottom legend
{
  const lg = svg.append("g");
  lg.append("text").attr("class", "leg").attr("x", 221.7).attr("y", 822).text("Baseline SUVR group");
  [["SUVR-", "#0000ff", 366], ["SUVR+", "#ff0000", 452.7]].forEach(k => {
    lg.append("circle").attr("cx", k[2]).attr("cy", 818).attr("r", 3.6)
        .attr("fill", k[1]).attr("fill-opacity", 0.45);
    lg.append("text").attr("class", "leg").attr("x", k[2] + 21).attr("y", 822).text(k[0]);
  });
}
</script>
</body>
</html>
